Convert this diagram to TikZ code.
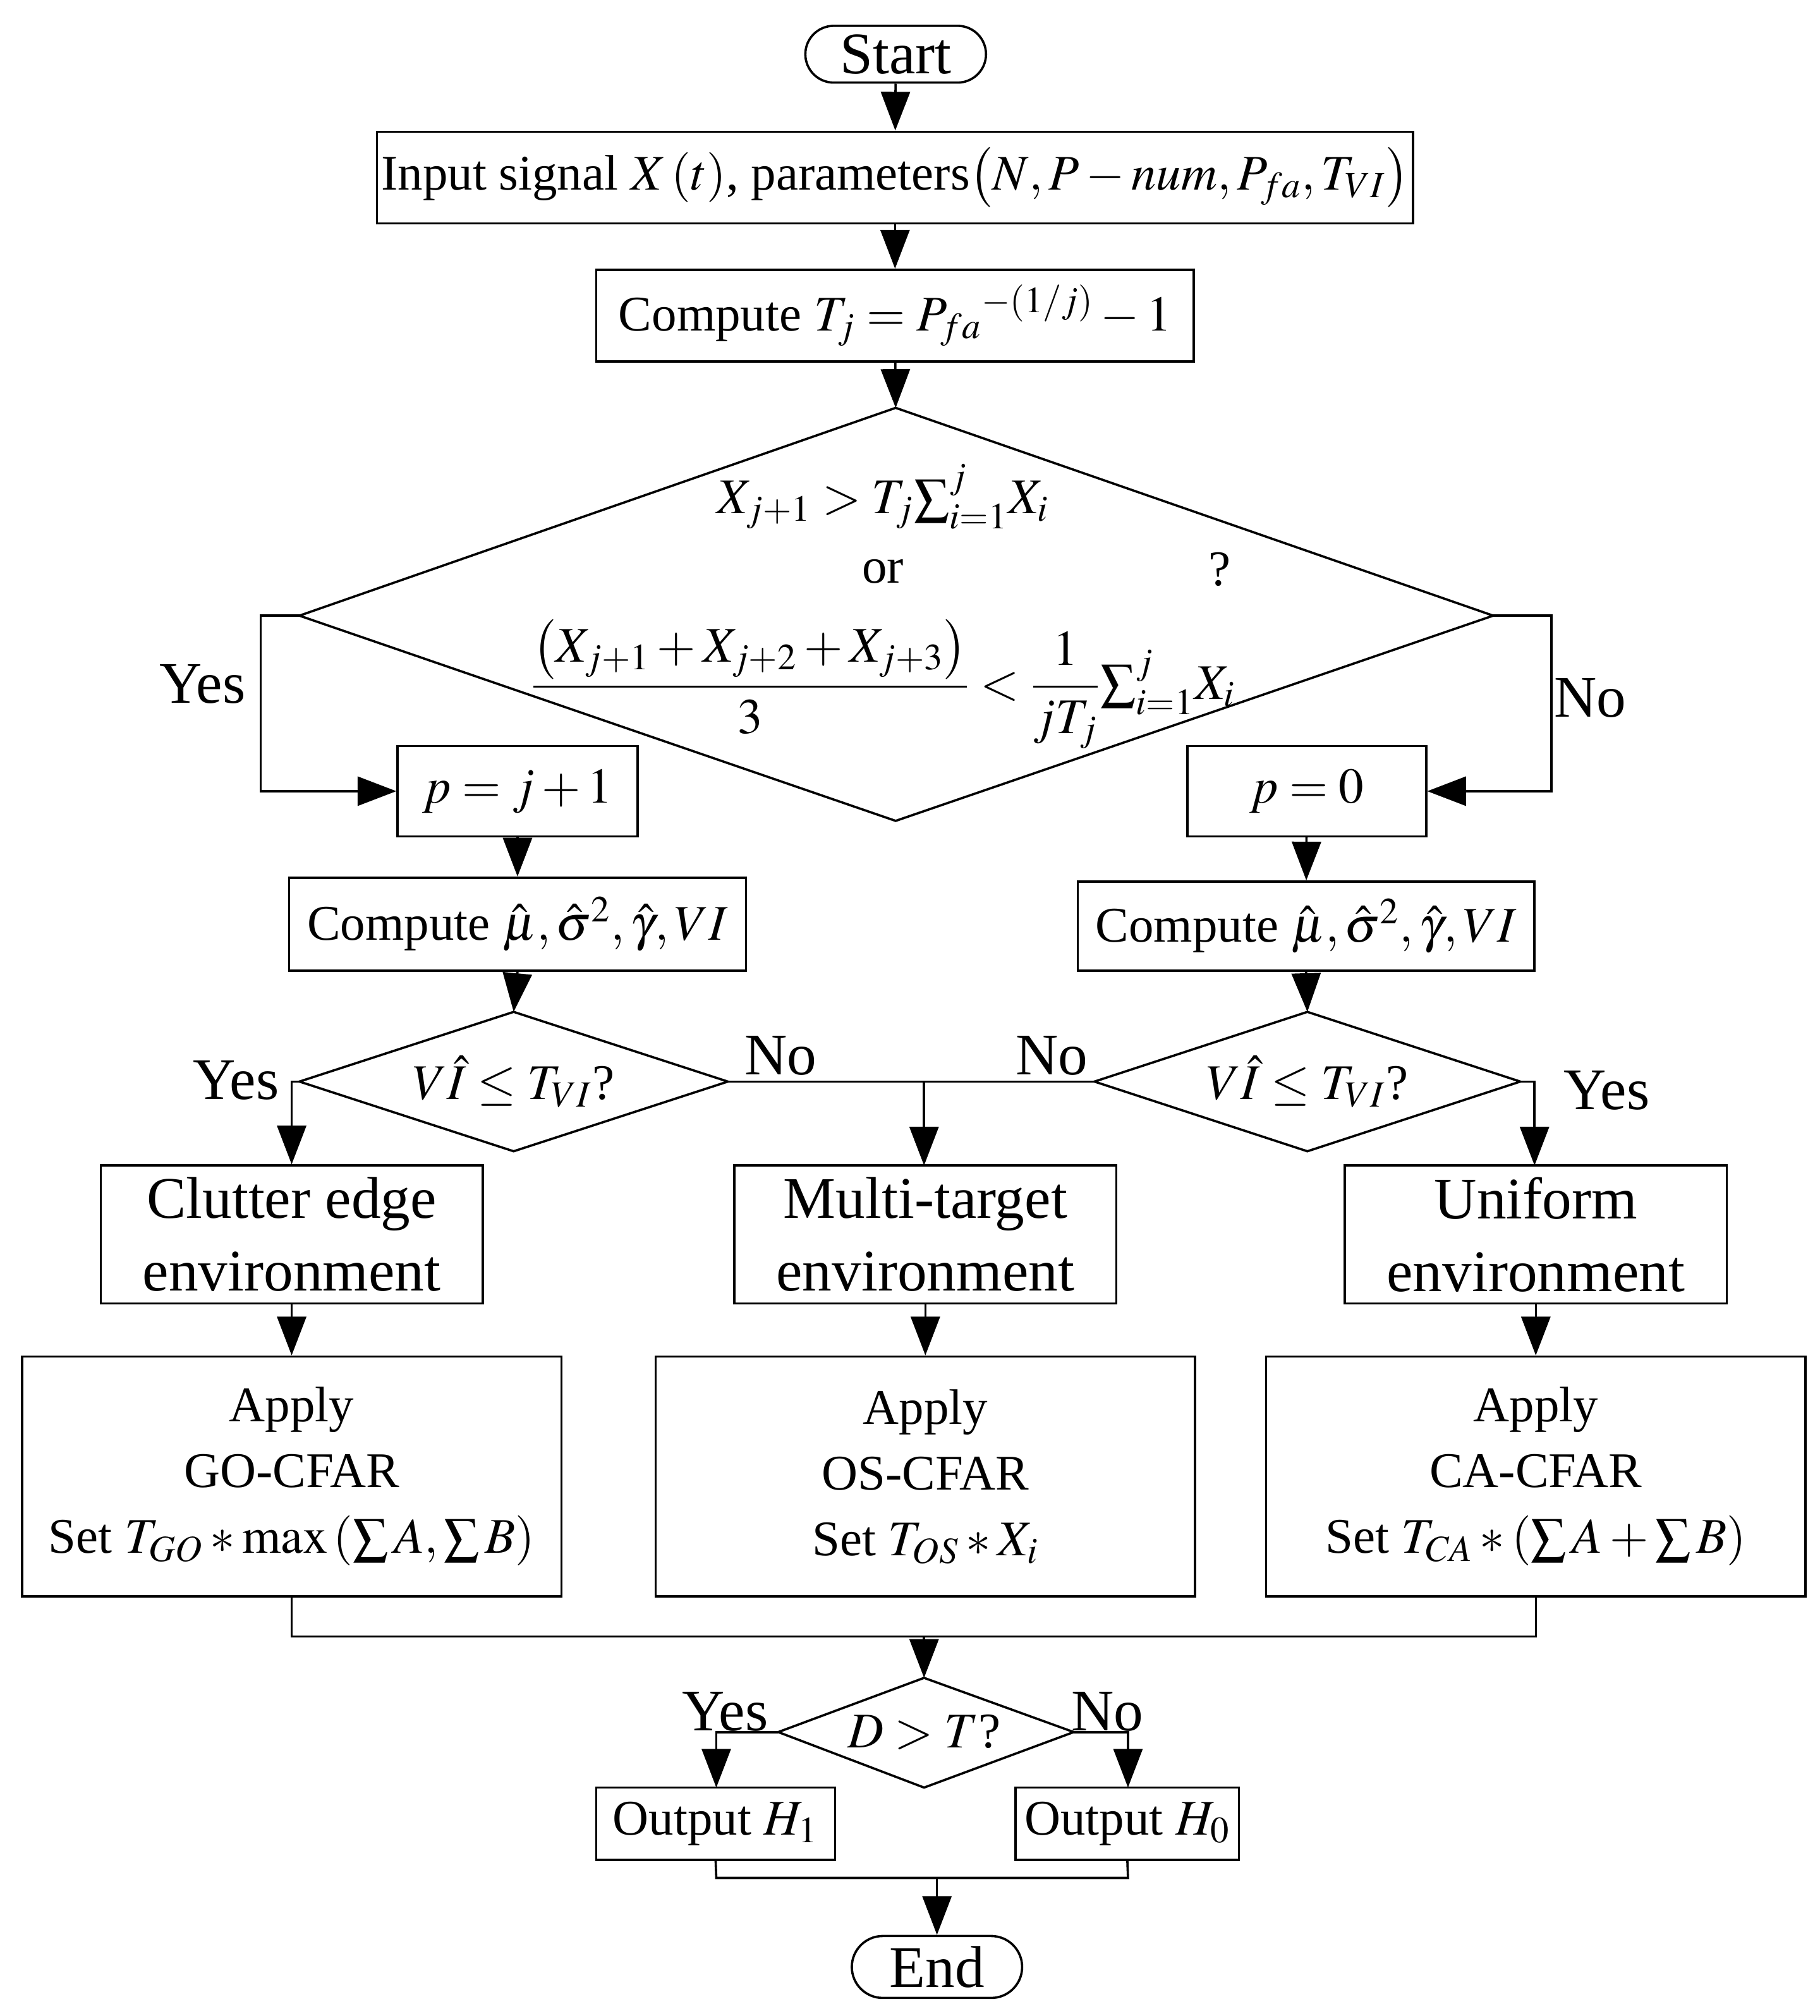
\documentclass[tikz,border=0pt]{standalone}
\usepackage{amsmath}
\usepackage{mathptmx}
\usepackage{fontspec}
\setmainfont{Liberation Serif}
\usetikzlibrary{arrows.meta,shapes.geometric}
\begin{document}
\begin{tikzpicture}[x=0.02cm,y=-0.02cm,
  every node/.style={font=\fontsize{22}{27}\selectfont},
  box/.style={draw,line width=1pt,minimum width=#1*0.02cm,inner sep=0pt,align=center},
  ln/.style={line width=1pt},
  ar/.style={line width=1pt,-{Triangle[length=0.6cm,width=0.45cm]}},
  big/.style={font=\fontsize{26}{32}\selectfont},
  lab/.style={font=\fontsize{26}{30}\selectfont}]
\useasboundingbox (0,0) rectangle (1410,1562);
\node[draw,line width=1pt,rounded corners=0.44cm,minimum width=2.8cm,minimum height=0.88cm,inner sep=0pt,big] (start) at (694,42) {Start};
\node[box=803,minimum height=1.42cm] (in) at (693.5,137.5) {Input signal $X\left(t\right)$, parameters$\left(N,P-num,P_{fa},T_{VI}\right)$};
\node[box=463,minimum height=1.42cm] (ct) at (693.5,244.5) {Compute $T_j={P_{fa}}^{-(1/j)}-1$};
\coordinate (dt) at (694,316); \coordinate (dl) at (232,477); \coordinate (dr) at (1157,477); \coordinate (db) at (694,636);
\draw[ln] (dt)--(dr)--(db)--(dl)--cycle;
\node (t1) at (684,385) {$X_{j+1}>T_j{\textstyle\sum}_{i=1}^{j}X_i$};
\node (t2) at (684,443) {or};
\node (t3) at (945,441) {?};
\node (t4) at (684,530) {$\dfrac{\left(X_{j+1}+X_{j+2}+X_{j+3}\right)}{3}<\dfrac{1}{jT_j}{\textstyle\sum}_{i=1}^{j}X_i$};
\node[box=186,minimum height=1.4cm] (p1) at (401,613) {$p=j+1$};
\node[box=185,minimum height=1.4cm] (p0) at (1012.5,613) {$p=0$};
\node[box=354,minimum height=1.44cm] (cl) at (401,716) {Compute $\hat{\mu},\hat{\sigma}^2,\hat{\gamma},VI$};
\node[box=354,minimum height=1.38cm] (cr) at (1012,717.5) {Compute $\hat{\mu},\hat{\sigma}^2,\hat{\gamma},VI$};
\coordinate (al) at (232,838); \coordinate (ar) at (564,838); \coordinate (at) at (398,784); \coordinate (ab) at (398,892);
\draw[ln] (al)--(at)--(ar)--(ab)--cycle;
\node (vl) at (398,838) {$V\hat{I}\le T_{VI}$?};
\coordinate (bl) at (848,838); \coordinate (br) at (1178,838); \coordinate (bt) at (1013,784); \coordinate (bb) at (1013,892);
\draw[ln] (bl)--(bt)--(br)--(bb)--cycle;
\node (vr) at (1013,838) {$V\hat{I}\le T_{VI}$?};
\node[box=296,minimum height=2.14cm,big] (e1) at (226,956.5) {Clutter edge\\environment};
\node[box=296,minimum height=2.14cm,big] (e2) at (717,956.5) {Multi-target\\environment};
\node[box=296,minimum height=2.14cm,big] (e3) at (1190,956.5) {Uniform\\environment};
\node[box=418,minimum height=3.72cm,font=\fontsize{22}{29}\selectfont] (a1) at (226,1144) {Apply\\GO-CFAR\\Set $T_{GO}*\max\left(\sum A,\sum B\right)$};
\node[box=418,minimum height=3.72cm,font=\fontsize{22}{29}\selectfont] (a2) at (717,1144) {Apply\\OS-CFAR\\Set $T_{OS}*X_i$};
\node[box=418,minimum height=3.72cm,font=\fontsize{22}{29}\selectfont] (a3) at (1190,1144) {Apply\\CA-CFAR\\Set $T_{CA}*\left(\sum A+\sum B\right)$};
\coordinate (ct2) at (716,1300); \coordinate (cl2) at (603,1342); \coordinate (cr2) at (832,1342); \coordinate (cb2) at (716,1385);
\draw[ln] (cl2)--(ct2)--(cr2)--(cb2)--cycle;
\node (dd) at (716,1342) {$D>T$?};
\node[box=185,minimum height=1.12cm] (h1) at (554.5,1413) {Output $H_1$};
\node[box=173,minimum height=1.12cm] (h0) at (873.5,1413) {Output $H_0$};
\node[draw,line width=1pt,rounded corners=0.48cm,minimum width=2.64cm,minimum height=0.96cm,inner sep=0pt,big] (end) at (726,1524) {End};
% connectors
\draw[ar] (start)--(in); \draw[ar] (in)--(ct); \draw[ar] (ct)--(dt);
\draw[ar] (dl)--(202,477)--(202,613)--(p1.west);
\draw[ar] (dr)--(1202,477)--(1202,613)--(p0.east);
\node[lab] at (157,530) {Yes}; \node[lab] at (1232,541) {No};
\draw[ar] (p1)--(cl); \draw[ar] (p0)--(cr);
\draw[ar] (cl.south)--(at); \draw[ar] (cr.south)--(bt);
\draw[ar] (al)--(226,838)--(e1.north);
\draw[ar] (ar)--(716,838)--(716,903);
\draw[ln] (bl)--(716,838);
\draw[ar] (br)--(1189,838)--(1189,903);
\node[lab] at (183,837) {Yes}; \node[lab] at (605,818) {No}; \node[lab] at (815,818) {No}; \node[lab] at (1245,845) {Yes};
\draw[ar] (e1)--(a1); \draw[ar] (e2)--(a2); \draw[ar] (e3)--(a3);
\draw[ln] (a1.south)--(226,1268)--(1190,1268)--(a3.south);
\draw[ar] (716,1268)--(ct2);
\draw[ar] (cl2)--(555,1342)--(555,1385);
\draw[ar] (cr2)--(874,1342)--(874,1385);
\node[lab] at (562,1326) {Yes}; \node[lab] at (858,1326) {No};
\draw[ln] (h1.south)--(555,1455)--(874,1455)--(h0.south);
\draw[ar] (726,1455)--(end.north);
\end{tikzpicture}
\end{document}
